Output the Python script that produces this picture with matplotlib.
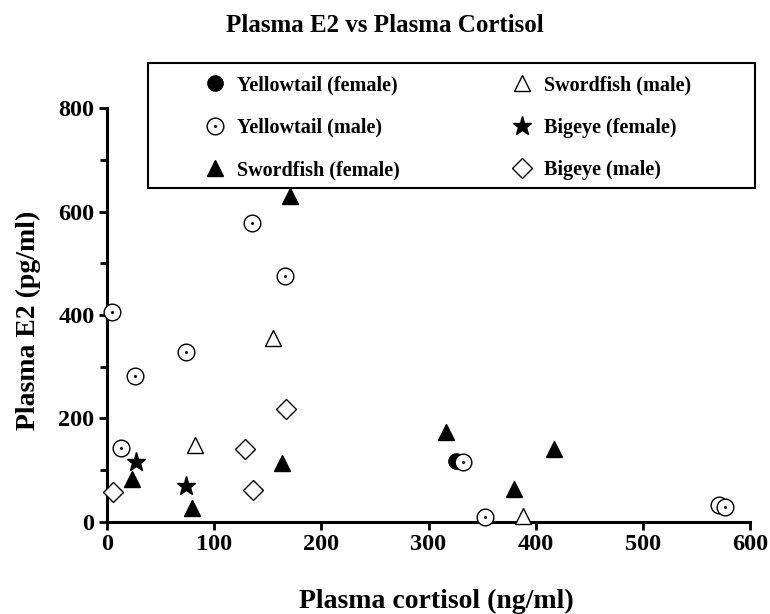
import matplotlib
matplotlib.use("Agg")
import matplotlib.pyplot as plt
from matplotlib.patches import Rectangle
from matplotlib.path import Path

plt.rcParams["font.family"] = ["Liberation Serif", "DejaVu Serif"]
plt.rcParams["font.weight"] = "bold"

# values: cortisol (ng/ml), E2 (pg/ml)
yt_female_x = [326]
yt_female_y = [117]
yt_male_x = [5, 135, 166, 74, 26, 13, 332, 353, 571, 577]
yt_male_y = [405, 577, 476, 329, 282, 143, 116, 10, 33, 28]
sw_female_x = [171, 23, 79, 163, 316, 417, 380]
sw_female_y = [630, 82, 27, 114, 174, 141, 64]
sw_male_x = [155, 82, 388]
sw_male_y = [356, 149, 11]
be_female_x = [27, 74]
be_female_y = [115, 70]
be_male_x = [6, 129, 136, 167]
be_male_y = [57, 141, 61, 218]

# open circle with a dot in the middle
outer = Path.unit_circle()
inner = Path(Path.unit_circle().vertices * 0.1, Path.unit_circle().codes)
dot_circle = Path.make_compound_path(outer, inner)

fig = plt.figure(figsize=(7.7, 6.14), dpi=100)
ax = fig.add_axes([0.139, 0.150, 0.835, 0.674])

common = dict(linestyle="none", color="black", clip_on=False, zorder=3)
ax.plot(yt_female_x, yt_female_y, marker="o", ms=11, label="Yellowtail (female)", **common)
ax.plot(yt_male_x, yt_male_y, marker=dot_circle, ms=12, mfc="white", mew=1.0,
        label="Yellowtail (male)", **common)
ax.plot(sw_female_x, sw_female_y, marker="^", ms=12, label="Swordfish (female)", **common)
ax.plot(sw_male_x, sw_male_y, marker="^", ms=12, mfc="white", mew=1.0, label="Swordfish (male)", **common)
ax.plot(be_female_x, be_female_y, marker="*", ms=14, label="Bigeye (female)", **common)
ax.plot(be_male_x, be_male_y, marker="D", ms=10, mfc="white", mew=1.0, label="Bigeye (male)", **common)

ax.set_xlim(0, 600)
ax.set_ylim(0, 800)
ax.set_xticks([0, 100, 200, 300, 400, 500, 600])
ax.set_yticks([0, 200, 400, 600, 800])
ax.set_yticks([100, 300, 500, 700], minor=True)
for side in ["top", "right"]:
    ax.spines[side].set_visible(False)
for side in ["left", "bottom"]:
    ax.spines[side].set_linewidth(2.2)
ax.tick_params(which="major", length=6, width=2, labelsize=17.5, pad=3)
ax.tick_params(which="minor", length=5, width=2)
for lab in ax.get_xticklabels() + ax.get_yticklabels():
    lab.set_fontweight("bold")

ax.set_xlabel("Plasma cortisol (ng/ml)", fontsize=20, fontweight="bold")
ax.set_ylabel("Plasma E2 (pg/ml)", fontsize=20, fontweight="bold")
ax.xaxis.set_label_coords(0.513, -0.162)
ax.yaxis.set_label_coords(-0.103, 0.488)
fig.text(0.5, 0.958, "Plasma E2 vs Plasma Cortisol", ha="center", va="center",
         fontsize=18, fontweight="bold")

# legend box drawn by hand, two single-column legends inside it
fig.patches.append(Rectangle((0.192, 0.694), 0.789, 0.203, transform=fig.transFigure,
                             fill=False, lw=1.5, edgecolor="black", zorder=5))
handles, labels = ax.get_legend_handles_labels()
leg_kw = dict(loc="upper left", frameon=False, prop={"size": 14.5, "weight": "bold"},
              labelspacing=1.12, handlelength=1.0, handletextpad=0.6, borderpad=0,
              borderaxespad=0, numpoints=1)
fig.legend(handles[:3], labels[:3], bbox_to_anchor=(0.266, 0.8775), **leg_kw)
fig.legend(handles[3:], labels[3:], bbox_to_anchor=(0.665, 0.8775), **leg_kw)

fig.savefig("out.png", dpi=100)
